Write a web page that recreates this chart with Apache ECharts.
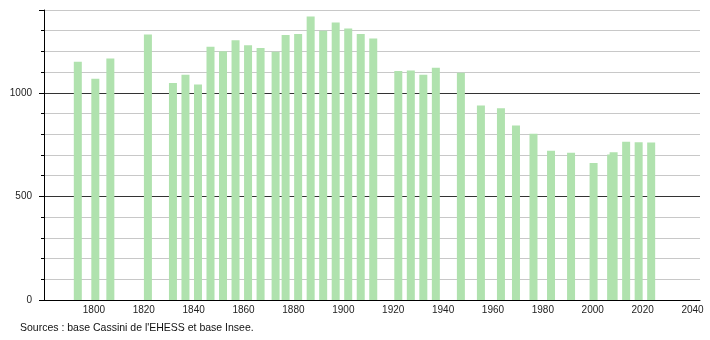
<!DOCTYPE html>
<html>
<head>
<meta charset="utf-8">
<script src="https://cdn.jsdelivr.net/npm/echarts@6/dist/echarts.min.js"></script>
<style>html,body{margin:0;padding:0;background:#fff}#c{width:710px;height:340px}</style>
</head>
<body>
<div id="c"></div>
<script>
var years = [1793, 1800, 1806, 1821, 1831, 1836, 1841, 1846, 1851, 1856, 1861, 1866, 1872, 1876, 1881, 1886, 1891, 1896, 1901, 1906, 1911, 1921, 1926, 1931, 1936, 1946, 1954, 1962, 1968, 1975, 1982, 1990, 1999, 2006, 2007, 2012, 2017, 2022];
var population = [1150, 1068, 1166, 1282, 1048, 1088, 1040, 1222, 1201, 1254, 1230, 1217, 1198, 1279, 1284, 1369, 1300, 1340, 1311, 1284, 1263, 1105, 1108, 1088, 1121, 1097, 939, 926, 842, 803, 721, 711, 661, 703, 713, 764, 761, 760];
var yTickLabels = [0, 500, 1000];
var xTickLabels = [1800, 1820, 1840, 1860, 1880, 1900, 1920, 1940, 1960, 1980, 2000, 2020, 2040];
var sourceText = "Sources : base Cassini de l'EHESS et base Insee.";

var chart = echarts.init(document.getElementById('c'), null, {renderer: 'canvas'});
var font = 'Liberation Sans, Arial, Helvetica, sans-serif';
var pairs = years.map(function (y, i) { return [y, population[i]]; });

chart.setOption({
  animation: false,
  grid: {left: 44, right: 10, top: 10, bottom: 40},
  xAxis: [{
    type: 'value', min: 1780, max: 2043, interval: 20,
    axisLine: {show: true, lineStyle: {color: '#000', width: 1}},
    axisTick: {show: false},
    splitLine: {show: false},
    axisLabel: {
      color: '#222', fontSize: 10, fontFamily: font, margin: 5,
      formatter: function (v) { return xTickLabels.indexOf(v) >= 0 ? String(v) : ''; }
    }
  }, {
    type: 'value', min: 1779.5, max: 2041.5, show: false, position: 'bottom'
  }],
  yAxis: [{
    type: 'value', min: 0, max: 1400, interval: 100,
    axisLine: {show: true, lineStyle: {color: '#000', width: 1}},
    axisTick: {show: true, length: 3, lineStyle: {color: '#000'}},
    splitLine: {show: true, lineStyle: {color: ['#333', '#c8c8c8', '#c8c8c8', '#c8c8c8', '#c8c8c8'], width: 1}},
    axisLabel: {
      color: '#222', fontSize: 10, fontFamily: font, margin: 12,
      formatter: function (v) { return yTickLabels.indexOf(v) >= 0 ? String(v) : ''; }
    }
  }, {
    type: 'value', min: 0, max: 1400, interval: 500, position: 'left',
    axisLine: {show: false},
    axisTick: {show: true, length: 5, lineStyle: {color: '#000'}},
    splitLine: {show: false},
    axisLabel: {show: false}
  }],
  series: [{
    type: 'bar',
    xAxisIndex: 1,
    data: pairs,
    barWidth: 8,
    itemStyle: {color: '#b0e2ae'},
    silent: true
  }],
  graphic: [{
    type: 'text', left: 20, top: 323,
    style: {text: sourceText, fill: '#111', font: '10.5px ' + font}
  }]
});
</script>
</body>
</html>
